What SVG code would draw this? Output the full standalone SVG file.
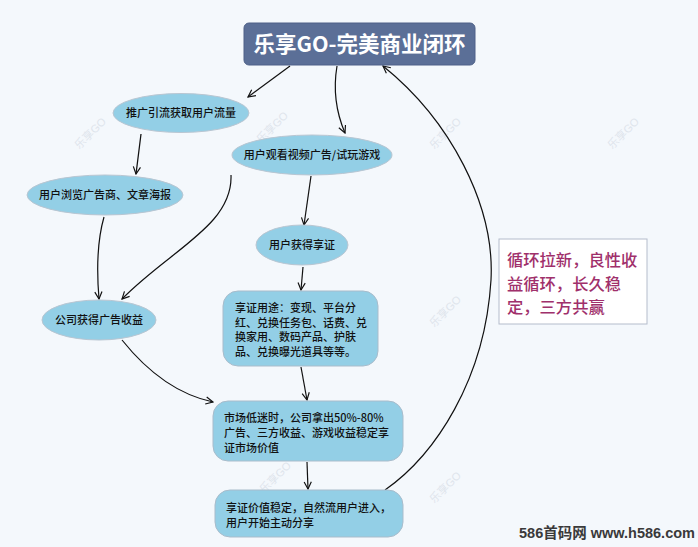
<svg xmlns="http://www.w3.org/2000/svg" width="698" height="547" viewBox="0 0 698 547">
<defs>
<marker id="arr" viewBox="0 0 10 10" refX="9" refY="5" markerWidth="9" markerHeight="9" markerUnits="userSpaceOnUse" orient="auto">
<path d="M1,1 L9,5 L1,9" fill="none" stroke="#111" stroke-width="1.3"/>
</marker>
<style>
.bg{fill:#f4f8fc}
.wm{font-family:"Liberation Sans","Noto Sans CJK SC",sans-serif;font-size:11px;fill:#dfe5ec}
.ell{fill:#93cfe6;stroke:#b9c6d2;stroke-width:1}
.box{fill:#93cfe6;stroke:#a9bccb;stroke-width:1}
.t{font-family:"Noto Sans CJK SC","Liberation Sans",sans-serif;font-size:11px;font-weight:500;fill:#111}
.c{stroke:#111;stroke-width:1.2;fill:none;marker-end:url(#arr)}
</style>
</defs>
<rect class="bg" x="0" y="0" width="698" height="547"/>
<g id="watermarks">
<text class="wm" transform="translate(93,136) rotate(-45)" text-anchor="middle">乐享GO</text>
<text class="wm" transform="translate(275,130) rotate(-45)" text-anchor="middle">乐享GO</text>
<text class="wm" transform="translate(448,136) rotate(-45)" text-anchor="middle">乐享GO</text>
<text class="wm" transform="translate(626,136) rotate(-45)" text-anchor="middle">乐享GO</text>
<text class="wm" transform="translate(448,314) rotate(-45)" text-anchor="middle">乐享GO</text>
<text class="wm" transform="translate(278,480) rotate(-45)" text-anchor="middle">乐享GO</text>
<text class="wm" transform="translate(448,490) rotate(-45)" text-anchor="middle">乐享GO</text>
</g>
<g id="connectors">
<path class="c" d="M290,66 L248,97"/>
<path class="c" d="M337,66 C333,90 336,112 345,133"/>
<path class="c" d="M141,134 L136,174"/>
<path class="c" d="M311,176 L304,225"/>
<path class="c" d="M303,267 L301,290"/>
<path class="c" d="M104,217 C96,245 97,275 99,299"/>
<path class="c" d="M231,175 C233,225 170,250 122,299"/>
<path class="c" d="M122,340 C150,375 180,395 213,402"/>
<path class="c" d="M301,367 L307,400"/>
<path class="c" d="M307,462 L308,489"/>
<path class="c" d="M385,490 C435,455 485,380 491,280 C495,205 450,120 383,66"/>
</g>
<g id="title">
<rect x="244" y="23" width="231" height="42" rx="5" fill="#5b6f97" stroke="#4e6188" stroke-width="1"/>
<text x="359.5" y="52" text-anchor="middle" font-family="Noto Sans CJK SC,Liberation Sans,sans-serif" font-size="21.5" font-weight="bold" fill="#ffffff">乐享GO-完美商业闭环</text>
</g>
<g id="n-promote">
<ellipse class="ell" cx="181" cy="113" rx="68" ry="19.5"/>
<text class="t" x="181" y="117" text-anchor="middle">推广引流获取用户流量</text>
</g>
<g id="n-watch">
<ellipse class="ell" cx="312" cy="155" rx="80" ry="20"/>
<text class="t" x="312" y="159" text-anchor="middle">用户观看视频广告/试玩游戏</text>
</g>
<g id="n-browse">
<ellipse class="ell" cx="105" cy="195" rx="78" ry="20"/>
<text class="t" x="105" y="199" text-anchor="middle">用户浏览广告商、文章海报</text>
</g>
<g id="n-get">
<ellipse class="ell" cx="302" cy="245" rx="46" ry="20"/>
<text class="t" x="302" y="249" text-anchor="middle">用户获得享证</text>
</g>
<g id="n-revenue">
<ellipse class="ell" cx="99" cy="320" rx="57" ry="20"/>
<text class="t" x="99" y="324" text-anchor="middle">公司获得广告收益</text>
</g>
<g id="n-usage">
<rect class="box" x="223" y="291" width="155" height="75" rx="15"/>
<text class="t" x="235" y="312">享证用途：变现、平台分</text>
<text class="t" x="235" y="326.5">红、兑换任务包、话费、兑</text>
<text class="t" x="235" y="341">换家用、数码产品、护肤</text>
<text class="t" x="235" y="355.5">品、兑换曝光道具等等。</text>
</g>
<g id="n-market">
<rect class="box" x="213" y="401" width="190" height="60" rx="15"/>
<text class="t" x="224" y="422">市场低迷时，公司拿出50%-80%</text>
<text class="t" x="224" y="437">广告、三方收益、游戏收益稳定享</text>
<text class="t" x="224" y="452">证市场价值</text>
</g>
<g id="n-stable">
<rect class="box" x="215" y="490" width="188" height="47" rx="15"/>
<text class="t" x="226" y="511.5">享证价值稳定，自然流用户进入，</text>
<text class="t" x="226" y="526.5">用户开始主动分享</text>
</g>
<g id="note">
<rect x="499" y="239" width="148" height="85" fill="#ffffff" stroke="#b4bccb" stroke-width="1"/>
<text x="507" y="266" font-family="Noto Sans CJK SC,Liberation Sans,sans-serif" font-size="16.3" font-weight="500" fill="#a0306b">循环拉新，良性收</text>
<text x="507" y="289.5" font-family="Noto Sans CJK SC,Liberation Sans,sans-serif" font-size="16.3" font-weight="500" fill="#a0306b">益循环，长久稳</text>
<text x="507" y="313" font-family="Noto Sans CJK SC,Liberation Sans,sans-serif" font-size="16.3" font-weight="500" fill="#a0306b">定，三方共赢</text>
</g>
<text x="519" y="538" font-family="Liberation Sans,Noto Sans CJK SC,sans-serif" font-size="14.5" font-weight="bold" fill="#3a3a3a">586首码网 www.h586.com</text>
</svg>
